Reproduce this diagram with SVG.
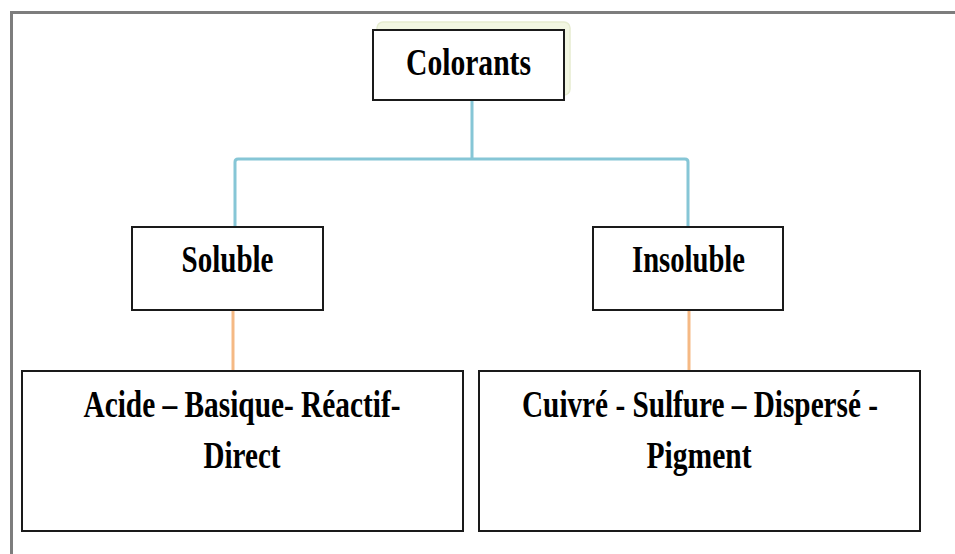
<svg xmlns="http://www.w3.org/2000/svg" width="955" height="554" viewBox="0 0 955 554">
  <style>
    .box { fill: #ffffff; stroke: #1a1a1a; stroke-width: 2; }
    .lbl { font-family: "Liberation Serif", "Times New Roman", serif; font-weight: bold; font-size: 38px; fill: #000; text-anchor: middle; }
    .blue { fill: none; stroke: #86c6d6; stroke-width: 3; stroke-linejoin: round; }
    .orange { fill: none; stroke: #f5b984; stroke-width: 3; }
  </style>
  <rect width="955" height="554" fill="#ffffff"/>
  <!-- frame -->
  <path d="M11.5,554 V12.5 H955" fill="none" stroke="#7d7d7d" stroke-width="3"/>

  <g id="connectors">
    <path class="blue" d="M472,100 V159 M235,226 V162 Q235,159 238,159 H685 Q688,159 688,162 V226"/>
    <path class="orange" d="M233,310 V371"/>
    <path class="orange" d="M689,310 V371"/>
  </g>

  <g id="colorants">
    <rect x="377" y="22" width="193" height="73" rx="6" fill="#f2f6e2" stroke="#e6ecd0" stroke-width="1.5"/>
    <rect class="box" x="373" y="30" width="191" height="70"/>
    <text class="lbl" x="468.5" y="75" textLength="125" lengthAdjust="spacingAndGlyphs">Colorants</text>
  </g>

  <g id="soluble">
    <rect class="box" x="132" y="227" width="191" height="83"/>
    <text class="lbl" x="227.5" y="272" textLength="92" lengthAdjust="spacingAndGlyphs">Soluble</text>
  </g>

  <g id="insoluble">
    <rect class="box" x="593" y="227" width="190" height="83"/>
    <text class="lbl" x="688.5" y="272" textLength="113" lengthAdjust="spacingAndGlyphs">Insoluble</text>
  </g>

  <g id="soluble-types">
    <rect class="box" x="22" y="371" width="441" height="160"/>
    <text class="lbl" x="242" y="417" textLength="317" lengthAdjust="spacingAndGlyphs">Acide – Basique- Réactif-</text>
    <text class="lbl" x="242" y="468" textLength="77" lengthAdjust="spacingAndGlyphs">Direct</text>
  </g>

  <g id="insoluble-types">
    <rect class="box" x="479" y="371" width="441" height="160"/>
    <text class="lbl" x="700" y="417" textLength="356" lengthAdjust="spacingAndGlyphs">Cuivré - Sulfure – Dispersé -</text>
    <text class="lbl" x="699" y="468" textLength="105" lengthAdjust="spacingAndGlyphs">Pigment</text>
  </g>
</svg>
